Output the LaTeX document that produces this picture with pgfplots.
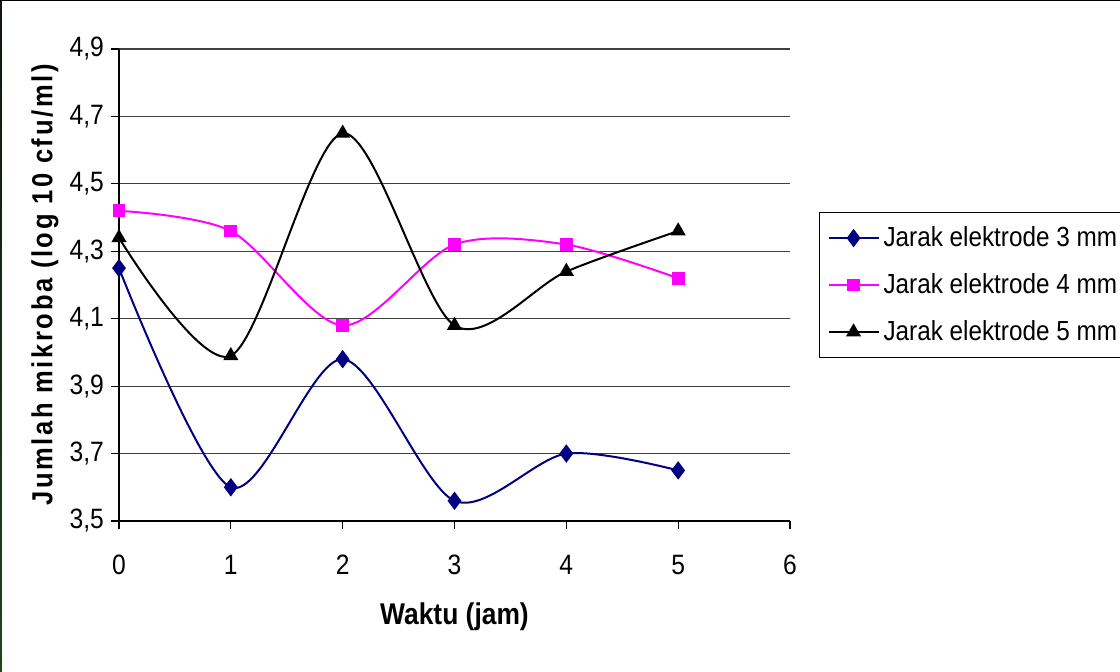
\documentclass[border=0pt]{standalone}
\usepackage{fontspec}
\setmainfont{Liberation Sans}[FakeStretch=0.88]
\newfontfamily\labfont{Liberation Sans}[FakeStretch=0.88, LetterSpace=9]
\usepackage{pgfplots}
\pgfplotsset{compat=1.18}
\definecolor{navyline}{RGB}{0,0,128}
\definecolor{pinkline}{RGB}{255,0,255}
\definecolor{edgetop}{RGB}{14,22,14}
\definecolor{edgebot}{RGB}{28,72,28}

\begin{document}
\begin{tikzpicture}
\begin{axis}[
  scale only axis,
  width=335.5pt, height=236pt,
  xmin=0, xmax=6, ymin=3.5, ymax=4.9,
  xtick={0,1,2,3,4,5,6},
  ytick={3.5,3.7,3.9,4.1,4.3,4.5,4.7,4.9},
  axis x line*=bottom, axis y line*=left,
  axis line style={black, line width=0.6pt, -},
  tick align=outside, major tick length=4pt,
  tick style={black, line width=0.6pt},
  ymajorgrids, major grid style={black!75, line width=0.6pt},
  tick label style={font=\fontsize{14}{16}\selectfont},
  x tick label style={yshift=-9.5pt},
  /pgf/number format/assume math mode=true,
  y tick label style={/pgf/number format/.cd, fixed, fixed zerofill, precision=1, use comma},
  xlabel={Waktu (jam)},
  ylabel={Jumlah mikroba (log 10 cfu/ml)},
  xlabel style={font=\bfseries\fontsize{15}{18}\selectfont, at={(axis description cs:0.5,-0.2034)}, anchor=center},
  ylabel style={font=\labfont\bfseries\fontsize{14.5}{18}\selectfont, at={(axis description cs:-0.1103,0.5)}, anchor=center},
  legend image code/.code={\draw[mark repeat=2,mark phase=2,#1] plot coordinates {(0pt,0pt) (12.5pt,0pt) (25pt,0pt)};},
  legend style={at={(1.0432,0.6547)}, anchor=north west, draw=black, line width=0.6pt,
    font=\fontsize{13.8}{16}\selectfont, inner xsep=4pt, inner ysep=5pt, row sep=8pt,
    cells={anchor=west}},
  legend cell align=left,
]
\addplot[navyline, line width=1pt, smooth, mark=diamond*, mark size=3.8pt, mark options={solid, fill=navyline}]
  coordinates {(0,4.25) (1,3.60) (2,3.98) (3,3.56) (4,3.70) (5,3.65)};
\addlegendentry{Jarak elektrode 3 mm}
\addplot[pinkline, line width=1pt, smooth, mark=square*, mark size=2.7pt, mark options={solid, fill=pinkline}]
  coordinates {(0,4.42) (1,4.36) (2,4.08) (3,4.32) (4,4.32) (5,4.22)};
\addlegendentry{Jarak elektrode 4 mm}
\addplot[black, line width=1pt, smooth, mark=triangle*, mark size=3.4pt, mark options={solid, fill=black}]
  coordinates {(0,4.34) (1,3.99) (2,4.65) (3,4.08) (4,4.24) (5,4.36)};
\addlegendentry{Jarak elektrode 5 mm}
\end{axis}
% frame edges of the slide
\shade[bottom color=edgebot, top color=edgetop] (-59.5pt,-75pt) rectangle (-58.5pt,260.5pt);
\fill[black] (-59.5pt,260pt) rectangle (500.5pt,260.5pt);
\pgfresetboundingbox
\useasboundingbox (-59.5pt,-75pt) rectangle (500.5pt,260.5pt);
\end{tikzpicture}
\end{document}
